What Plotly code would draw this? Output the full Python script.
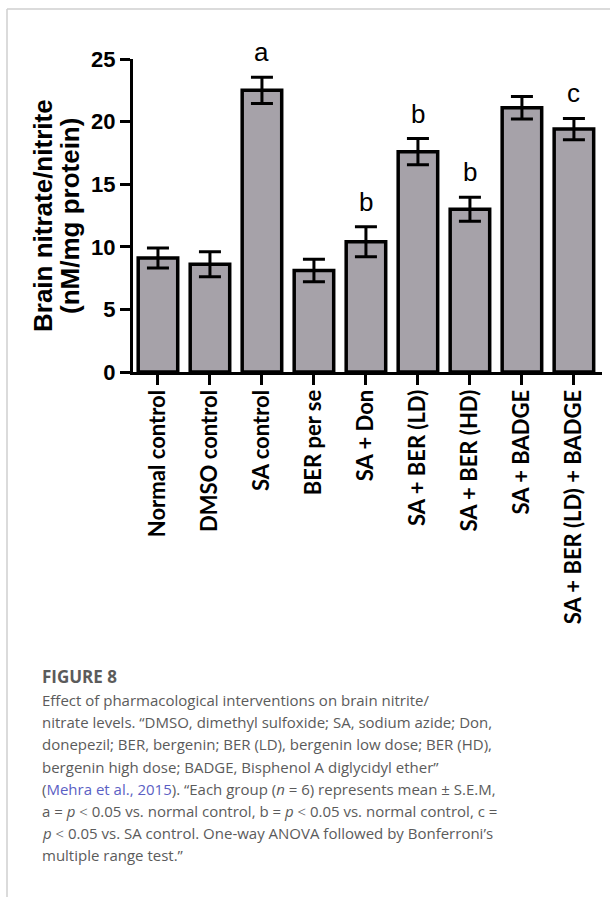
import plotly.graph_objects as go

# Group labels, means and S.E.M. (nM/mg protein)
groups = [
    "Normal control", "DMSO control", "SA control", "BER per se", "SA + Don",
    "SA + BER (LD)", "SA + BER (HD)", "SA + BADGE", "SA + BER (LD) + BADGE",
]
means = [9.1, 8.6, 22.5, 8.1, 10.4, 17.6, 13.0, 21.1, 19.4]
sems = [0.8, 1.0, 1.05, 0.9, 1.2, 1.05, 0.95, 0.9, 0.85]
sig_letters = ["", "", "a", "", "b", "b", "b", "", "c"]
y_ticks = [0, 5, 10, 15, 20, 25]

W, H = 610, 897
L, R, T, B = 133, 8, 59, 525
PW, PH = W - L - R, H - T - B


def px_x(px):
    return (px - L) / PW


def px_y(py):
    return (H - B - py) / PH


fig = go.Figure()
fig.add_trace(go.Bar(
    x=groups, y=means, width=0.76,
    marker=dict(color="#a6a2a9", line=dict(color="black", width=3.5)),
    error_y=dict(type="data", array=sems, visible=True, color="black",
                 thickness=3, width=11),
    showlegend=False,
))

annotations = []
for g, m, s, lt in zip(groups, means, sems, sig_letters):
    if lt:
        annotations.append(dict(
            x=g, y=m + s, xref="x", yref="y", text=lt, showarrow=False,
            yanchor="bottom", yshift=8,
            font=dict(family="Liberation Sans", size=26, color="black"),
        ))

# two-line y title
for text, cx in [("Brain nitrate/nitrite", 43), ("(nM/mg protein)", 70)]:
    annotations.append(dict(
        x=px_x(cx), y=px_y(216), xref="paper", yref="paper", text=text,
        textangle=-90, showarrow=False, xanchor="center", yanchor="middle",
        font=dict(family="Liberation Sans", size=26, color="black", weight="bold"),
    ))

# caption
cap_color = "#5b5b5b"
cap_font = "Open Sans"
annotations.append(dict(
    x=px_x(40), y=px_y(676), xref="paper", yref="paper", text="FIGURE 8",
    showarrow=False, xanchor="left", yanchor="middle",
    font=dict(family=cap_font, size=17, color=cap_color, weight="bold"),
))
caption_lines = [
    "Effect of pharmacological interventions on brain nitrite/",
    "nitrate levels. “DMSO, dimethyl sulfoxide; SA, sodium azide; Don,",
    "donepezil; BER, bergenin; BER (LD), bergenin low dose; BER (HD),",
    "bergenin high dose; BADGE, Bisphenol A diglycidyl ether”",
    "(<span style='color:#5b5fc4'>Mehra et al., 2015</span>). “Each group (<i>n</i> = 6) represents mean ± S.E.M,",
    "a = <i>p</i> ˂ 0.05 vs. normal control, b = <i>p</i> ˂ 0.05 vs. normal control, c =",
    "<i>p</i> ˂ 0.05 vs. SA control. One-way ANOVA followed by Bonferroni’s",
    "multiple range test.”",
]
for i, line in enumerate(caption_lines):
    base = 705 + 22.2 * i
    annotations.append(dict(
        x=px_x(40), y=px_y(base - 5), xref="paper", yref="paper", text=line,
        showarrow=False, xanchor="left", yanchor="middle",
        font=dict(family=cap_font, size=15, color=cap_color),
    ))

shapes = [
    dict(type="line", xref="paper", yref="paper", x0=px_x(7), x1=px_x(610),
         y0=px_y(9), y1=px_y(9), line=dict(color="#cfcfcf", width=1.5)),
    dict(type="line", xref="paper", yref="paper", x0=px_x(7), x1=px_x(7),
         y0=px_y(9), y1=px_y(897), line=dict(color="#cfcfcf", width=1.5)),
]

fig.update_layout(
    width=W, height=H, autosize=False,
    margin=dict(l=L, r=R, t=T, b=B),
    paper_bgcolor="white", plot_bgcolor="white",
    annotations=annotations, shapes=shapes,
    xaxis=dict(
        range=[-0.48, 8.54], showgrid=False, zeroline=False,
        showline=True, linecolor="black", linewidth=3,
        ticks="outside", ticklen=10, tickwidth=3, tickcolor="black",
        tickangle=-90, ticklabelstandoff=-4,
        tickfont=dict(family="Lato", size=22, color="black", weight="bold"),
    ),
    yaxis=dict(
        range=[0, 25], tickvals=y_ticks, showgrid=False, zeroline=False,
        showline=True, linecolor="black", linewidth=3,
        ticks="outside", ticklen=10, tickwidth=3, tickcolor="black",
        tickfont=dict(family="Liberation Sans", size=22, color="black", weight="bold"),
    ),
)

fig.write_html("out.html")
